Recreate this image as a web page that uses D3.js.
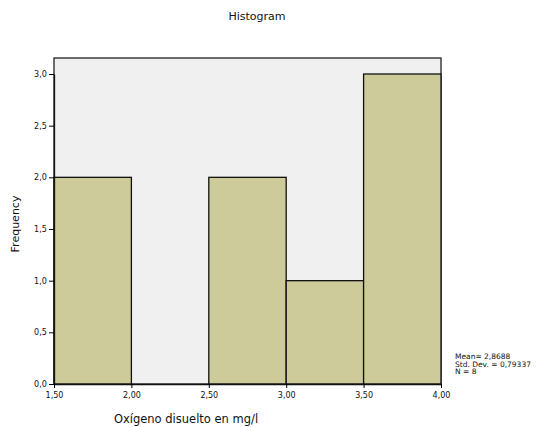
<!DOCTYPE html>
<html><head><meta charset="utf-8">
<script src="https://cdn.jsdelivr.net/npm/d3@7"></script>
<style>body{margin:0;background:#fff;} text{font-family:"DejaVu Sans",sans-serif;}</style>
</head><body><svg id="c" width="548" height="427"></svg>
<script>
const binStarts = [1.5, 2.0, 2.5, 3.0, 3.5];
const binWidth = 0.5;
const frequencies = [2, 0, 2, 1, 3];
const xTickValues = [1.5, 2.0, 2.5, 3.0, 3.5, 4.0];
const yTickValues = [0, 0.5, 1.0, 1.5, 2.0, 2.5, 3.0];
const statsLines = ["Mean= 2,8688", "Std. Dev. = 0,79337", "N = 8"];

const svg = d3.select("#c");
const L = 54, R = 441, T = 58, B = 384;
const x = d3.scaleLinear().domain([1.5, 4.0]).range([L, R]);
const y = d3.scaleLinear().domain([0, 3]).range([B, 74]);

svg.append("rect").attr("x", L).attr("y", T).attr("width", R - L).attr("height", B - T)
  .attr("fill", "#f0f0f0").attr("stroke", "#222").attr("stroke-width", 1.3);

const bars = binStarts.map((s, i) => ({s, f: frequencies[i]})).filter(d => d.f > 0);
svg.selectAll("rect.bar").data(bars).enter().append("rect").attr("class", "bar")
  .attr("x", d => x(d.s)).attr("y", d => y(d.f))
  .attr("width", d => x(d.s + binWidth) - x(d.s)).attr("height", d => y(0) - y(d.f))
  .attr("fill", "#cccb99").attr("stroke", "#111").attr("stroke-width", 1.3);

const xAxis = d3.axisBottom(x).tickValues(xTickValues).tickSize(4).tickSizeOuter(0)
  .tickFormat(v => v.toFixed(2).replace(".", ","));
const gx = svg.append("g").attr("transform", `translate(0,${B})`).call(xAxis);
gx.select(".domain").attr("stroke", "#111").attr("stroke-width", 1.3);
gx.selectAll("text").attr("font-size", 8).attr("fill", "#111").attr("dy", "0.9em");

const yAxis = d3.axisLeft(y).tickValues(yTickValues).tickSize(5).tickSizeOuter(0)
  .tickFormat(v => v.toFixed(1).replace(".", ","));
const gy = svg.append("g").attr("transform", `translate(${L},0)`).call(yAxis);
gy.select(".domain").attr("stroke", "#111").attr("stroke-width", 1.3);
gy.selectAll("text").attr("font-size", 8).attr("fill", "#111").attr("dx", "0.1em");

svg.append("text").attr("x", 257).attr("y", 20).attr("text-anchor", "middle")
  .attr("font-size", 11).attr("fill", "#111").text("Histogram");
svg.append("text").attr("x", 186).attr("y", 423).attr("text-anchor", "middle")
  .attr("font-size", 11.5).attr("fill", "#111").text("Oxígeno disuelto en mg/l");
svg.append("text").attr("transform", "translate(19,224) rotate(-90)").attr("text-anchor", "middle")
  .attr("font-size", 11).attr("fill", "#111").text("Frequency");

svg.selectAll("text.stat").data(statsLines).enter().append("text").attr("class", "stat")
  .attr("x", 455).attr("y", (d, i) => 359 + i * 7.5).attr("font-size", 7.5).attr("fill", "#111").text(d => d);
</script></body></html>
